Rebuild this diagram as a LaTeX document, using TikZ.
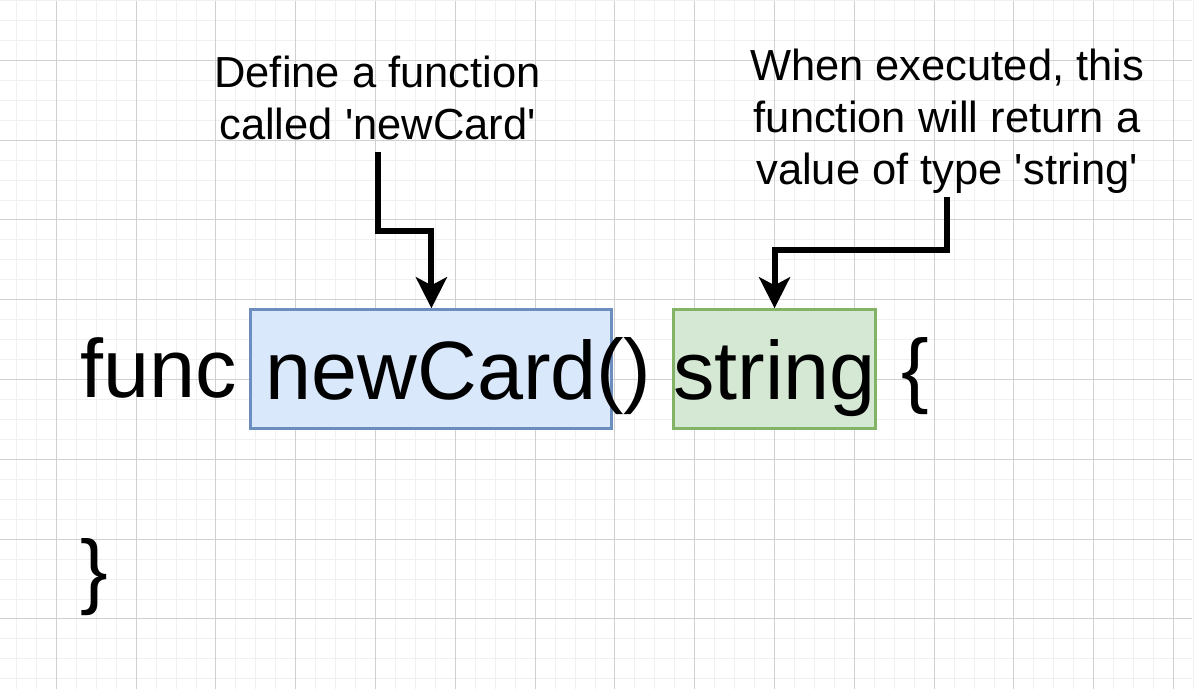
\documentclass[tikz,border=0pt]{standalone}
\usepackage{fontspec}
\setmainfont{Liberation Sans}
\usepackage{xcolor}
\definecolor{boxblue}{HTML}{DAE8FC}
\definecolor{lineblue}{HTML}{6C8EBF}
\definecolor{boxgreen}{HTML}{D5E8D4}
\definecolor{linegreen}{HTML}{82B366}
\definecolor{gridminor}{HTML}{F0F0F0}
\definecolor{gridmajor}{HTML}{D0D0D0}
\usepackage{tikz}
\usetikzlibrary{arrows.meta, positioning}
\newcommand{\sq}{\textquotesingle}

\begin{document}
\begin{tikzpicture}[
    x=0.5pt, y=-0.5pt,
    codefont/.style={font=\fontsize{41.5}{50}\selectfont},
    code/.style={codefont, inner sep=0pt, anchor=base west},
    codebox/.style={codefont, draw, line width=1.5pt, inner sep=0pt,
                    text height=30pt, text depth=0pt,
                    minimum height=59.5pt},
    note/.style={font=\fontsize{21.8}{26}\selectfont, align=center,
                 inner sep=1pt, text depth=5pt, anchor=south},
    conn/.style={draw, line width=3pt,
                 -{Stealth[length=15.5pt, width=15.5pt, inset=4pt]}}
]
% background and grid
\fill[white] (0,0) rectangle (1194,690);
\foreach \x in {16,36,...,1196}
    \draw[gridminor, line width=0.5pt] (\x,0) -- (\x,690);
\foreach \y in {0,20,...,680}
    \draw[gridminor, line width=0.5pt] (0,\y) -- (1194,\y);
\foreach \x in {56,136,...,1176}
    \draw[gridmajor, line width=0.5pt] (\x,0) -- (\x,690);
\foreach \y in {60,140,...,620}
    \draw[gridmajor, line width=0.5pt] (0,\y) -- (1194,\y);
\useasboundingbox (0,0) rectangle (1194,690);

% code line
\node[code] (kwfunc) at (80,398) {func};
\node[codebox, fill=boxblue, draw=lineblue, minimum width=181pt]
    (namebox) at (432,369.5) {newCard};
\node[code] (parens) at (597,398) {()};
\node[codebox, fill=boxgreen, draw=linegreen, minimum width=101pt]
    (typebox) at (776,369.5) {string};
\node[code] (lbrace) at (903,398) {\{};
\node[code] (rbrace) at (80,599) {\}};

% notes
\node[note] (namenote) at (378,151.5)
    {Define a function\\called \sq newCard\sq};
\node[note] (typenote) at (949,197)
    {When executed, this\\function will return a\\value of type \sq string\sq};

% connectors
\draw[conn] (namenote.south) -- ++(0,80) -| (namebox.north);
\draw[conn] (typenote.south) -- ++(0,53) -| (typebox.north);
\end{tikzpicture}
\end{document}
